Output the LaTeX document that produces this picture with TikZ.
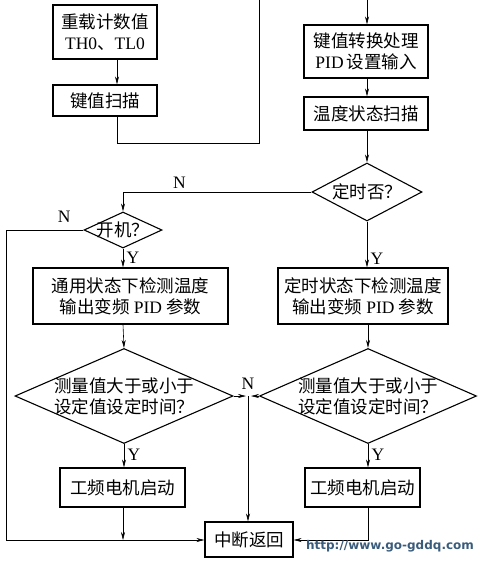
\documentclass[tikz,border=0pt]{standalone}
\usepackage{fontspec}
\setmainfont{Liberation Serif}
\newfontfamily\cjk{Noto Sans CJK SC}
\newfontfamily\wmfont{DejaVu Sans}
\usetikzlibrary{arrows.meta,shapes.geometric}
\newcommand{\zh}[1]{{\cjk #1}}
\definecolor{wmblue}{HTML}{3A5C7C}

\begin{document}
\begin{tikzpicture}[
    x=1pt, y=-1pt,
    box/.style={draw, line width=1.1pt, inner sep=0pt, align=center},
    cond/.style={draw, diamond, line width=1.1pt, inner xsep=-12pt, inner ysep=0pt, align=center},
    line/.style={line width=0.6pt},
    >={Stealth[length=8pt, width=4pt]},
    font=\fontsize{17.5}{21}\selectfont
]
    \useasboundingbox (0,0) rectangle (484,562);

    % 左侧: 重载与扫描
    \node[box, minimum width=104, minimum height=54] (reload) at (105,32) {\zh{重载计数值}\\TH0\zh{、}TL0};
    \node[box, minimum width=104, minimum height=31] (keyscan) at (105,100.5) {\zh{键值扫描}};

    % 右侧: 键值处理与温度扫描
    \node[box, minimum width=124, minimum height=53] (keyproc) at (366,51.5) {\zh{键值转换处理}\\PID\,\zh{设置输入}};
    \node[box, minimum width=124, minimum height=33] (tempscan) at (366,113.5) {\zh{温度状态扫描}};

    % 判断节点
    \node[cond, aspect=1.9, minimum width=110, minimum height=58] (timer) at (367,192) {\zh{定时否？}};
    \node[cond, aspect=2.17, minimum width=78, minimum height=36] (power) at (123,230) {\zh{开机？}};

    % 检测温度
    \node[box, minimum width=195, minimum height=56] (normal) at (130.5,296) {\zh{通用状态下检测温度}\\\zh{输出变频} PID \zh{参数}};
    \node[box, minimum width=170, minimum height=56] (timed) at (363,296) {\zh{定时状态下检测温度}\\\zh{输出变频} PID \zh{参数}};

    \node[cond, aspect=2.3, minimum width=218, minimum height=95] (cmpL) at (124,396) {\zh{测量值大于或小于}\\\zh{设定值设定时间？}};
    \node[cond, aspect=2.3, minimum width=217, minimum height=95] (cmpR) at (368,396) {\zh{测量值大于或小于}\\\zh{设定值设定时间？}};

    % 电机启动与返回
    \node[box, minimum width=125, minimum height=39] (motorL) at (122.5,487.5) {\zh{工频电机启动}};
    \node[box, minimum width=115, minimum height=39] (motorR) at (362.5,487.5) {\zh{工频电机启动}};
    \node[box, minimum width=88, minimum height=35] (ret) at (249,539.5) {\zh{中断返回}};

    \coordinate (topL) at (259,0);
    \coordinate (topR) at (367,0);
    \coordinate (join) at (248,396);
    \coordinate (loop) at (6,540);

    % 连线
    \draw[line, ->] ([xshift=12]reload.south) -- ([xshift=12]keyscan.north);
    \draw[line] ([xshift=12]keyscan.south) -- ++(0,27) -| (topL);
    \draw[line, ->] (topR) -- (topR |- keyproc.north);
    \draw[line, ->] (keyproc.south -| topR) -- (tempscan.north -| topR);
    \draw[line, ->] (tempscan.south -| topR) -- (timer.north);
    \draw[line, ->] (timer.west) -- node[above, pos=0.7] {N} (timer.west -| power.north) -- (power.north);
    \draw[line, ->] (timer.south) -- node[right, pos=0.8] {Y} (timer.south |- timed.north);
    \draw[line, ->] (power.south) -- node[right, pos=0.5] {Y} (power.south |- normal.north);
    \draw[line, ->] (power.west) -- node[above, pos=0.25, yshift=4] {N} (power.west -| loop) -- (loop) -- (ret.west |- loop);
    \draw[line, ->] (power.south |- normal.south) -- (cmpL.north);
    \draw[line, ->] (cmpR.north |- timed.south) -- (cmpR.north);
    \draw[line, ->] (cmpL.south) -- node[right, pos=0.45] {Y} (cmpL.south |- motorL.north);
    \draw[line, ->] (cmpR.south) -- node[right, pos=0.45] {Y} (cmpR.south |- motorR.north);
    \draw[line, ->] (cmpL.east) -- ([xshift=-2]join);
    \draw[line, ->] (cmpR.west) -- ([xshift=3]join);
    \draw[line, ->] (join) -- node[pos=0, above=3] {N} (join |- ret.north);
    \draw[line, ->] (power.south |- motorL.south) -- (power.south |- loop);
    \draw[line, ->] (cmpR.south |- motorR.south) -- (cmpR.south |- loop) -- (ret.east |- loop);

    % 网址
    \node[text=wmblue, font=\wmfont\bfseries\fontsize{12}{14}\selectfont] (url) at (390,546) {http://www.go-gddq.com};
\end{tikzpicture}
\end{document}
